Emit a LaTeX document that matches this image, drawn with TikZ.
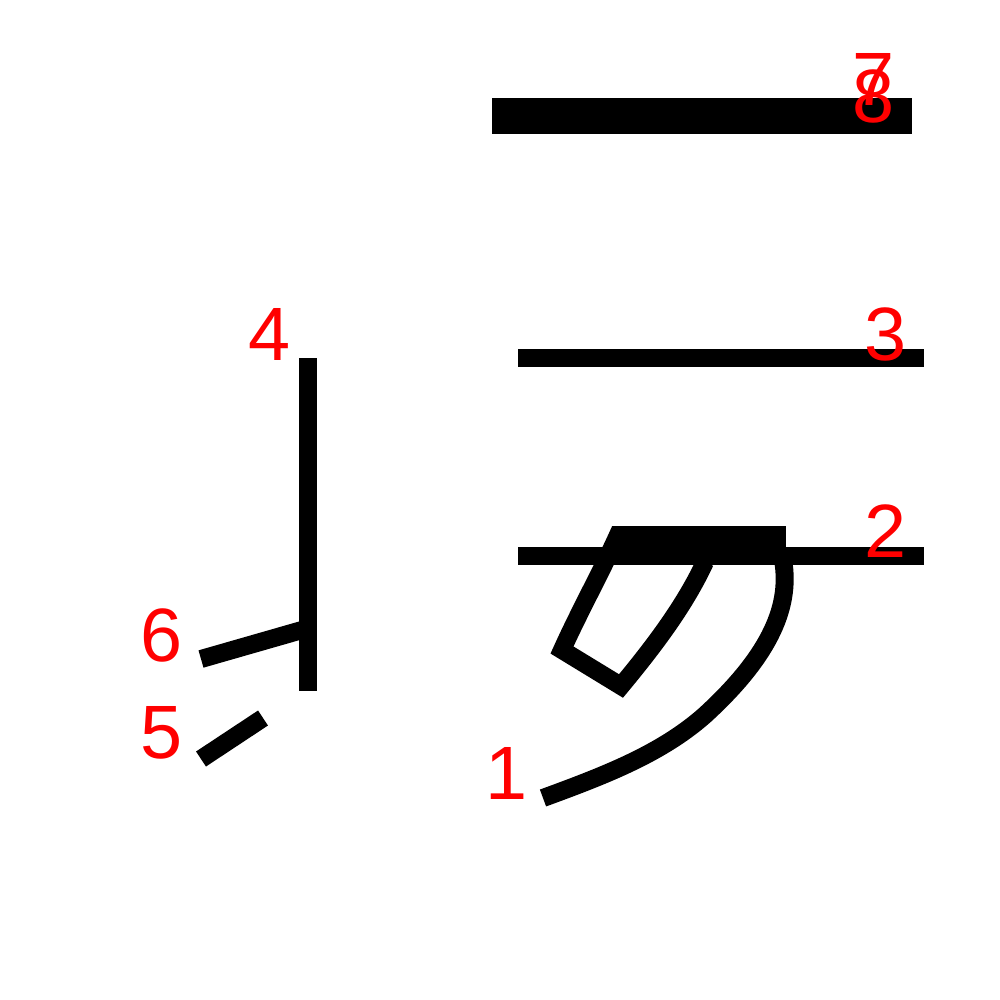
\documentclass[tikz,border=0pt]{standalone}
\usepackage{fontspec}
\setmainfont{Liberation Sans}
\begin{document}
\begin{tikzpicture}[x=0.01cm,y=-0.01cm,
  stroke/.style={line width=0.18cm, line cap=butt, line join=miter, black},
  lbl/.style={text=red, font=\fontsize{21.5pt}{24pt}\selectfont, inner sep=0pt, anchor=center}]
\useasboundingbox (0,0) rectangle (1000,1000);
% stroke 7/8: thick bar
\fill[black] (492,98) rectangle (912,134);
% stroke 3
\draw[stroke] (518,358) -- (924,358);
% stroke 2
\draw[stroke] (518,556) -- (924,556);
% top bar of ka
\fill[black] (620,526) rectangle (786,556);
% inner loop
\begin{scope}
\clip (0,526) rectangle (1000,1000);
\draw[stroke] (628,512) -- (622,526) .. controls (605,565) and (580,610) .. (562,650)
  -- (621,686) .. controls (655,645) and (685,605) .. (705,562);
\end{scope}
% stroke 1 curve
\draw[stroke] (783,560) .. controls (792,610) and (765,660) .. (705,715)
  .. controls (660,755) and (600,777) .. (543,798);
% stroke 4
\draw[stroke] (308,358) -- (308,691);
% stroke 6
\draw[stroke] (201,659) -- (302,630);
% stroke 5
\draw[stroke] (201,759) -- (263,718);
% labels
\node[lbl] (l7) at (874,79) {7};
\node[lbl] (l8) at (874,96) {8};
\node[lbl] (l3) at (886,334) {3};
\node[lbl] (l2) at (886,531) {2};
\node[lbl] (l4) at (270,334) {4};
\node[lbl] (l6) at (162,635) {6};
\node[lbl] (l5) at (162,733) {5};
\node[lbl] (l1) at (507,773) {1};
\end{tikzpicture}
\end{document}
